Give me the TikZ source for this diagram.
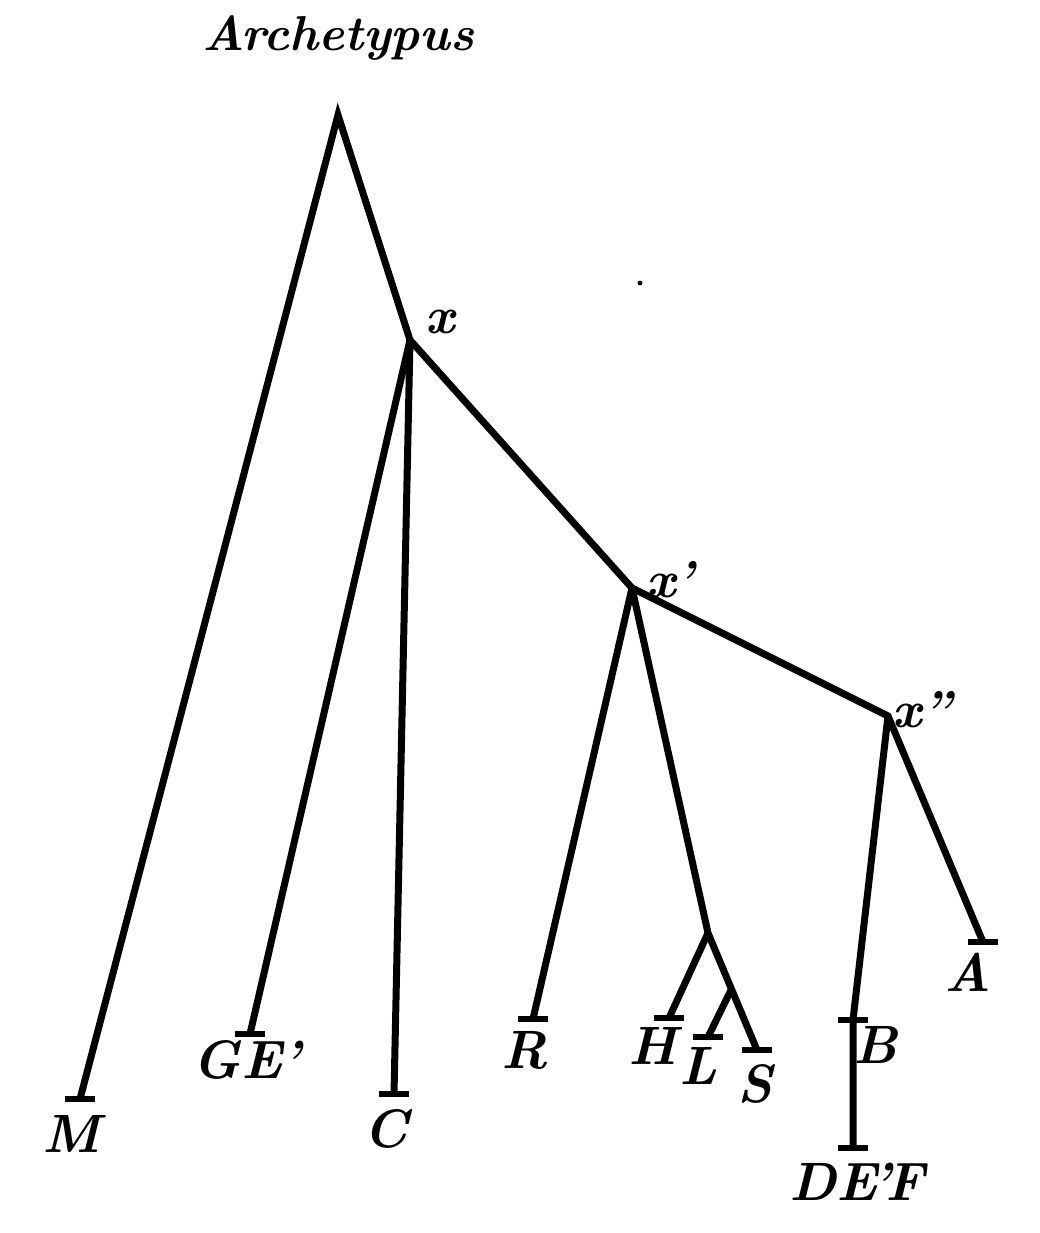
\documentclass[tikz,border=0pt]{standalone}
\usepackage{fontspec}
\begin{document}
\begin{tikzpicture}[x=0.5pt,y=-0.5pt,
  br/.style={line width=3.5pt, line join=miter},
  tick/.style={line width=2.8pt},
  lab/.style={font=\fontsize{27}{30}\selectfont\bfseries\itshape, inner sep=0pt, anchor=base},
  sig/.style={font=\fontsize{26}{28}\selectfont\bfseries\itshape, inner sep=0pt, anchor=base},
  title/.style={font=\fontsize{24.5}{30}\selectfont\bfseries\itshape, inner sep=0pt, anchor=base}]
\useasboundingbox (0,0) rectangle (1040,1233);
% branching points
\coordinate (root) at (338,115);
\coordinate (x1) at (410,340);
\coordinate (x2) at (632,588);
\coordinate (x3) at (888,716);
\coordinate (jHLS) at (708,933);
\coordinate (jLS) at (731,990);
% ends
\coordinate (eM) at (80,1099);
\coordinate (eGE) at (250,1034);
\coordinate (eC) at (394,1094);
\coordinate (eR) at (533,1019);
\coordinate (eH) at (669,1018);
\coordinate (eL) at (708,1037);
\coordinate (eS) at (757,1050);
\coordinate (eB) at (853,1020);
\coordinate (eDEF) at (853,1148);
\coordinate (eA) at (983,942);
% lines
\draw[br] (eM) -- (root) -- (x1) -- (x2) -- (x3) -- (eA);
\draw[br] (x1) -- (eGE);
\draw[br] (x1) -- (eC);
\draw[br] (x2) -- (eR);
\draw[br] (x2) -- (jHLS) -- (eS);
\draw[br] (jHLS) -- (eH);
\draw[br] (jLS) -- (eL);
\draw[br] (x3) -- (eB) -- (eDEF);
% ticks
\foreach \e in {eM,eGE,eC,eR,eH,eL,eS,eB,eDEF,eA}
  \draw[tick] ([xshift=-7.5pt]\e) -- ([xshift=7.5pt]\e);
% labels
\node[title] (tArch) at (338,50) {Archetypus};
\node[sig] (tx1) at (440,333) {x};
\node[sig] (tx2) at (670,597) {x’};
\node[sig] (tx3) at (922,727) {x”};
\node[lab] (tM) at (71,1152) {M};
\node[lab] (tGE) at (247,1078) {GE’};
\node[lab] (tC) at (386,1147) {C};
\node[lab] (tR) at (525,1068) {R};
\node[lab] (tH) at (653,1064) {H};
\node[lab] (tL) at (698,1084) {L};
\node[lab] (tS) at (755,1102) {S};
\node[lab] (tB) at (876,1063) {B};
\node[lab] (tDEF) at (857,1200) {DE\kern-0.12em’\kern-0.1em F};
\node[lab] (tA) at (968,991) {A};
\fill (640,283) circle (1.2pt);
\end{tikzpicture}
\end{document}
